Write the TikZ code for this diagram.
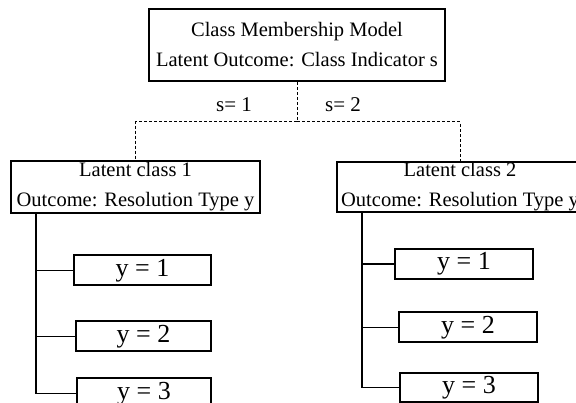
\documentclass[tikz,border=0pt]{standalone}
\usepackage{fontspec}
\setmainfont{Liberation Serif}
\tikzset{
    bigbox/.style={draw, line width=2.4pt, inner sep=0pt, align=center, font=\fontsize{20.5}{30}\selectfont},
    ybox/.style={draw, line width=2pt, inner sep=0pt, minimum width=137pt, minimum height=30pt, font=\fontsize{26}{28}\selectfont},
    split/.style={line width=1pt, dash pattern=on 3pt off 2pt},
    tree/.style={line width=1.4pt}
}
\begin{document}
\begin{tikzpicture}[x=1pt, y=-1pt]
    \useasboundingbox (0,0) rectangle (576,403);

    \node[bigbox, minimum width=296pt, minimum height=72pt] (top) at (297,45) {Class Membership Model\\Latent Outcome: Class Indicator s};

    \node[bigbox, minimum width=249pt, minimum height=52pt] (c1) at (135.5,187) {Latent class 1\\Outcome: Resolution Type y};
    \node[bigbox, minimum width=246pt, minimum height=50pt] (c2) at (460,187) {Latent class 2\\Outcome: Resolution Type y};

    \coordinate (split) at (297,122);
    \draw[split] (top.south) -- (split) -| (c1.north);
    \draw[split] (split) -| (c2.north);
    \node[font=\fontsize{21}{24}\selectfont] (s1) at (234,105) {s= 1};
    \node[font=\fontsize{21}{24}\selectfont] (s2) at (343,105) {s= 2};

    % outcomes of class 1
    \node[ybox] (a1) at (142.5,270.5) {y = 1};
    \node[ybox, minimum width=135pt] (a2) at (143.5,336.5) {y = 2};
    \node[ybox, minimum width=134pt] (a3) at (144,393.5) {y = 3};

    % outcomes of class 2
    \node[ybox, minimum width=138pt] (b1) at (464,264) {y = 1};
    \node[ybox, minimum width=138pt] (b2) at (468,327.5) {y = 2};
    \node[ybox, minimum width=138pt, minimum height=29pt] (b3) at (469,387.5) {y = 3};

    \coordinate (t1) at (36,0);
    \coordinate (t2) at (362,0);
    \foreach \y in {a1,a2,a3}
        \draw[tree] (t1 |- c1.south) |- (\y.west);
    \foreach \y in {b1,b2,b3}
        \draw[tree] (t2 |- c2.south) |- (\y.west);

\end{tikzpicture}
\end{document}
